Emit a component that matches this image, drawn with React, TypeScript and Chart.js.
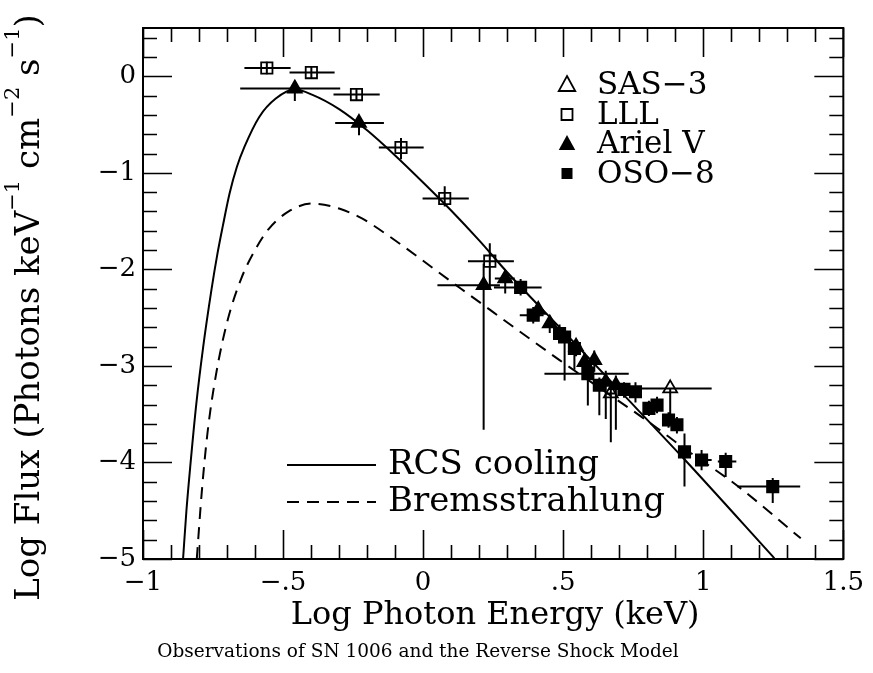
import React, { useEffect, useRef } from "react";
import { Chart, registerables } from "chart.js";

Chart.register(...registerables);

const FONT = '"DejaVu Serif", serif';

// Axis ticks
const xTicks = [-1, -0.5, 0, 0.5, 1, 1.5];
const xTickLabels = ["\u22121", "\u2212.5", "0", ".5", "1", "1.5"];
const yTicks = [-5, -4, -3, -2, -1, 0];
const yTickLabels = ["\u22125", "\u22124", "\u22123", "\u22122", "\u22121", "0"];
const xMin = -1, xMax = 1.5, xMinorStep = 0.1, xMajorStep = 0.5;
const yMin = -5, yMax = 0.5, yMinorStep = 0.2, yMajorStep = 1;

// SAS-3 (open triangles)
const sasX = [0.67, 0.882];
const sasY = [-3.285, -3.233];
const sasXLo = [0.655, 0.776];
const sasXHi = [0.685, 1.03];
const sasYLo = [-3.79, -3.61];
const sasYHi = [-3.22, -3.233];

// LLL (open squares)
const lllX = [-0.558, -0.399, -0.238, -0.079, 0.077, 0.238];
const lllY = [0.086, 0.038, -0.19, -0.738, -1.266, -1.915];
const lllXLo = [-0.638, -0.477, -0.32, -0.158, -0.002, 0.16];
const lllXHi = [-0.473, -0.316, -0.155, 0.002, 0.163, 0.324];
const lllYLo = [0.02, -0.02, -0.25, -0.86, -1.35, -2.215];
const lllYHi = [0.15, 0.1, -0.13, -0.64, -1.14, -1.73];

// Ariel V (filled triangles)
const arX = [-0.458, -0.229, 0.216, 0.293, 0.411, 0.452, 0.546, 0.576, 0.611, 0.652, 0.688];
const arY = [-0.127, -0.483, -2.164, -2.094, -2.42, -2.56, -2.8, -2.96, -2.94, -3.165, -3.2];
const arXLo = [-0.653, -0.314, 0.051, 0.256, 0.39, 0.435, 0.53, 0.56, 0.595, 0.635, 0.67];
const arXHi = [-0.296, -0.14, 0.274, 0.327, 0.43, 0.47, 0.565, 0.59, 0.625, 0.67, 0.705];
const arYLo = [-0.256, -0.61, -3.66, -2.25, -2.5, -2.66, -2.9, -3.12, -3.06, -3.55, -3.66];
const arYHi = [-0.07, -0.4, -1.94, -2.01, -2.35, -2.48, -2.72, -2.86, -2.84, -3.05, -3.1];

// OSO-8 (filled squares)
const osoX = [0.348, 0.393, 0.487, 0.505, 0.54, 0.588, 0.629, 0.717, 0.758, 0.806, 0.835, 0.876, 0.906, 0.933, 0.994, 1.08, 1.248];
const osoY = [-2.187, -2.474, -2.664, -2.7, -2.82, -3.08, -3.2, -3.243, -3.268, -3.44, -3.406, -3.56, -3.61, -3.89, -3.975, -3.99, -4.25];
const osoXLo = [0.253, 0.345, 0.47, 0.49, 0.525, 0.433, 0.61, 0.7, 0.74, 0.79, 0.82, 0.86, 0.89, 0.92, 0.971, 1.052, 1.122];
const osoXHi = [0.423, 0.43, 0.505, 0.52, 0.555, 0.734, 0.645, 0.735, 0.775, 0.82, 0.85, 0.89, 0.92, 0.945, 1.03, 1.118, 1.346];
const osoYLo = [-2.27, -2.56, -2.76, -3.15, -3.04, -3.41, -3.51, -3.33, -3.38, -3.52, -3.49, -3.64, -3.7, -4.25, -4.08, -4.15, -4.42];
const osoYHi = [-2.1, -2.39, -2.57, -2.62, -2.74, -2.94, -3.12, -3.17, -3.17, -3.36, -3.32, -3.48, -3.53, -3.7, -3.87, -3.9, -4.16];

// Model curves
const rcsX = [-0.857, -0.845, -0.83, -0.81, -0.785, -0.755, -0.735, -0.715, -0.691, -0.665, -0.638, -0.585, -0.526, -0.458, -0.397, -0.3, -0.2, -0.1, 0, 0.1, 0.2, 0.3, 0.5, 0.711, 0.935, 1.254];
const rcsY = [-5, -4.5, -4.0, -3.4, -2.8, -2.2, -1.85, -1.55, -1.214, -0.94, -0.732, -0.421, -0.231, -0.138, -0.19, -0.34, -0.56, -0.82, -1.1, -1.39, -1.7, -2.03, -2.64, -3.285, -3.975, -4.993];
const bremX = [-0.808, -0.79, -0.77, -0.74, -0.7, -0.65, -0.6, -0.55, -0.48, -0.397, -0.3, -0.22, -0.161, 0.134, 0.487, 0.829, 0.924, 1.118, 1.348];
const bremY = [-5, -4.3, -3.7, -3.1, -2.55, -2.1, -1.8, -1.577, -1.4, -1.318, -1.37, -1.47, -1.577, -2.198, -2.94, -3.63, -3.837, -4.234, -4.786];

const pts = (xs: number[], ys: number[]) => xs.map((x, i) => ({ x, y: ys[i] }));

const errorBarPlugin = {
  id: "errorBars",
  beforeDatasetsDraw(chart: any) {
    const { ctx, chartArea, scales } = chart;
    const xs = scales.x, ys = scales.y;
    ctx.save();
    ctx.beginPath();
    ctx.rect(chartArea.left, chartArea.top, chartArea.right - chartArea.left, chartArea.bottom - chartArea.top);
    ctx.clip();
    ctx.strokeStyle = "#000";
    ctx.lineWidth = 2;
    ctx.beginPath();
    chart.data.datasets.forEach((ds: any) => {
      const e = ds.errorBars;
      if (!e) return;
      ds.data.forEach((p: any, i: number) => {
        const px = xs.getPixelForValue(p.x);
        const py = ys.getPixelForValue(p.y);
        ctx.moveTo(xs.getPixelForValue(e.xLo[i]), py);
        ctx.lineTo(xs.getPixelForValue(e.xHi[i]), py);
        ctx.moveTo(px, ys.getPixelForValue(e.yLo[i]));
        ctx.lineTo(px, ys.getPixelForValue(e.yHi[i]));
      });
    });
    ctx.stroke();
    ctx.restore();
  },
};

const frameTicksPlugin = {
  id: "frameTicks",
  afterDatasetsDraw(chart: any) {
    const { ctx, chartArea: a, scales } = chart;
    const xs = scales.x, ys = scales.y;
    ctx.save();
    ctx.strokeStyle = "#000";
    ctx.lineWidth = 2;
    ctx.strokeRect(a.left, a.top, a.right - a.left, a.bottom - a.top);
    ctx.lineWidth = 1.6;
    ctx.beginPath();
    const minor = 14, major = 29;
    const nx = Math.floor((xMax - xMin) / xMinorStep + 1e-6);
    for (let i = 0; i <= nx; i++) {
      const v = xMin + i * xMinorStep;
      const isMajor = Math.abs(v / xMajorStep - Math.round(v / xMajorStep)) < 1e-6;
      const len = isMajor ? major : minor;
      const px = Math.round(xs.getPixelForValue(v)) + 0.5;
      ctx.moveTo(px, a.bottom);
      ctx.lineTo(px, a.bottom - len);
      ctx.moveTo(px, a.top);
      ctx.lineTo(px, a.top + len);
    }
    const ny = Math.floor((yMax - yMin) / yMinorStep + 1e-6);
    for (let i = 0; i <= ny; i++) {
      const v = yMin + i * yMinorStep;
      const isMajor = Math.abs(v / yMajorStep - Math.round(v / yMajorStep)) < 1e-6;
      const len = isMajor ? major : minor;
      const py = Math.round(ys.getPixelForValue(v)) + 0.5;
      ctx.moveTo(a.left, py);
      ctx.lineTo(a.left + len, py);
      ctx.moveTo(a.right, py);
      ctx.lineTo(a.right - len, py);
    }
    ctx.stroke();
    ctx.restore();
  },
};

function drawMarker(ctx: CanvasRenderingContext2D, kind: string, x: number, y: number, s: number, filled: boolean) {
  ctx.beginPath();
  if (kind === "triangle") {
    ctx.moveTo(x, y - s * 0.6);
    ctx.lineTo(x + s * 0.55, y + s * 0.4);
    ctx.lineTo(x - s * 0.55, y + s * 0.4);
    ctx.closePath();
  } else {
    ctx.rect(x - s / 2, y - s / 2, s, s);
  }
  if (filled) ctx.fill();
  else ctx.stroke();
}

const textPlugin = {
  id: "texts",
  afterDraw(chart: any) {
    const { ctx, chartArea: a } = chart;
    ctx.save();
    ctx.fillStyle = "#000";
    ctx.strokeStyle = "#000";

    // Y axis title (rotated, with superscripts)
    const segs: [string, boolean][] = [
      ["Log Flux (Photons keV", false],
      ["\u22121", true],
      [" cm", false],
      ["\u22122", true],
      [" s", false],
      ["\u22121", true],
      [")", false],
    ];
    const mainFont = `34px ${FONT}`;
    const supFont = `21px ${FONT}`;
    let total = 0;
    segs.forEach(([t, sup]) => {
      ctx.font = sup ? supFont : mainFont;
      total += ctx.measureText(t).width;
    });
    ctx.save();
    ctx.translate(39, (a.top + a.bottom) / 2 + 14);
    ctx.rotate(-Math.PI / 2);
    ctx.textBaseline = "alphabetic";
    ctx.textAlign = "left";
    let cx = -total / 2;
    segs.forEach(([t, sup]) => {
      ctx.font = sup ? supFont : mainFont;
      ctx.fillText(t, cx, sup ? -20 : 0);
      cx += ctx.measureText(t).width;
    });
    ctx.restore();

    // X axis title
    ctx.textAlign = "center";
    ctx.textBaseline = "middle";
    ctx.font = `32px ${FONT}`;
    ctx.fillText("Log Photon Energy (keV)", (a.left + a.right) / 2 + 2, a.bottom + 57);

    // Caption
    ctx.font = `18.5px ${FONT}`;
    ctx.fillText("Observations of SN 1006 and the Reverse Shock Model", 418, a.bottom + 93);

    // Marker legend
    const legendItems: [string, string, boolean][] = [
      ["SAS\u22123", "triangle", false],
      ["LLL", "rect", false],
      ["Ariel V", "triangle", true],
      ["OSO\u22128", "rect", true],
    ];
    ctx.textAlign = "left";
    ctx.font = `31px ${FONT}`;
    ctx.lineWidth = 1.8;
    legendItems.forEach(([label, kind, filled], i) => {
      const y = a.top + 57 + i * 29.5;
      drawMarker(ctx, kind, a.left + 424, y, kind === "triangle" ? 15 : 11, filled);
      ctx.fillText(label, a.left + 454, y + 1);
    });

    // Line legend
    ctx.font = `34px ${FONT}`;
    ctx.lineWidth = 2;
    const lx0 = a.left + 144, lx1 = a.left + 233;
    ctx.beginPath();
    ctx.moveTo(lx0, a.top + 437);
    ctx.lineTo(lx1, a.top + 437);
    ctx.stroke();
    ctx.fillText("RCS cooling", a.left + 245, a.top + 437);
    ctx.setLineDash([12, 8]);
    ctx.beginPath();
    ctx.moveTo(lx0, a.top + 474);
    ctx.lineTo(lx1, a.top + 474);
    ctx.stroke();
    ctx.setLineDash([]);
    ctx.fillText("Bremsstrahlung", a.left + 245, a.top + 474);
    ctx.restore();
  },
};

export default function App() {
  const ref = useRef<HTMLCanvasElement | null>(null);
  useEffect(() => {
    document.body.style.margin = "0";
    const canvas = ref.current;
    if (!canvas) return;
    const marker = (label: string, xs: number[], ys: number[], style: string, filled: boolean, r: number, e: any) => ({
      label,
      data: pts(xs, ys),
      showLine: false,
      pointStyle: style,
      pointRadius: r,
      pointHoverRadius: r,
      pointBorderWidth: 1.8,
      pointBorderColor: "#000",
      pointBackgroundColor: filled ? "#000" : "rgba(0,0,0,0)",
      errorBars: e,
    });
    const chart = new Chart(canvas, {
      type: "scatter",
      data: {
        datasets: [
          {
            label: "RCS cooling",
            data: pts(rcsX, rcsY),
            showLine: true,
            borderColor: "#000",
            borderWidth: 2,
            pointRadius: 0,
            cubicInterpolationMode: "monotone",
          } as any,
          {
            label: "Bremsstrahlung",
            data: pts(bremX, bremY),
            showLine: true,
            borderColor: "#000",
            borderWidth: 2,
            borderDash: [12, 8],
            pointRadius: 0,
            cubicInterpolationMode: "monotone",
          } as any,
          marker("SAS-3", sasX, sasY, "triangle", false, 8, { xLo: sasXLo, xHi: sasXHi, yLo: sasYLo, yHi: sasYHi }),
          marker("LLL", lllX, lllY, "rect", false, 8, { xLo: lllXLo, xHi: lllXHi, yLo: lllYLo, yHi: lllYHi }),
          marker("Ariel V", arX, arY, "triangle", true, 8, { xLo: arXLo, xHi: arXHi, yLo: arYLo, yHi: arYHi }),
          marker("OSO-8", osoX, osoY, "rect", true, 8, { xLo: osoXLo, xHi: osoXHi, yLo: osoYLo, yHi: osoYHi }),
        ],
      },
      options: {
        responsive: false,
        animation: false,
        devicePixelRatio: 1,
        layout: { padding: { top: 28, right: 24, left: 0, bottom: 0 } },
        plugins: { legend: { display: false }, tooltip: { enabled: false }, title: { display: false } },
        scales: {
          x: {
            type: "linear",
            min: xMin,
            max: xMax,
            grid: { display: false, drawTicks: false },
            border: { display: false },
            afterBuildTicks: (s: any) => {
              s.ticks = xTicks.map((v) => ({ value: v }));
            },
            afterFit: (s: any) => {
              s.height = 114;
            },
            ticks: {
              autoSkip: false,
              maxRotation: 0,
              padding: 9,
              color: "#000",
              font: { family: FONT, size: 26 },
              callback: (v: any) => {
                const i = xTicks.findIndex((t) => Math.abs(t - Number(v)) < 1e-9);
                return i >= 0 ? xTickLabels[i] : "";
              },
            },
          },
          y: {
            type: "linear",
            min: yMin,
            max: yMax,
            grid: { display: false, drawTicks: false },
            border: { display: false },
            afterBuildTicks: (s: any) => {
              s.ticks = yTicks.map((v) => ({ value: v }));
            },
            afterFit: (s: any) => {
              s.width = 143;
            },
            ticks: {
              autoSkip: false,
              padding: 7,
              color: "#000",
              font: { family: FONT, size: 26 },
              callback: (v: any) => {
                const i = yTicks.findIndex((t) => Math.abs(t - Number(v)) < 1e-9);
                return i >= 0 ? yTickLabels[i] : "";
              },
            },
          },
        },
      } as any,
      plugins: [errorBarPlugin, frameTicksPlugin, textPlugin],
    });
    return () => chart.destroy();
  }, []);
  return (
    <div style={{ width: 873, height: 673, background: "#fff" }}>
      <canvas ref={ref} width={873} height={673} style={{ display: "block" }} />
    </div>
  );
}
